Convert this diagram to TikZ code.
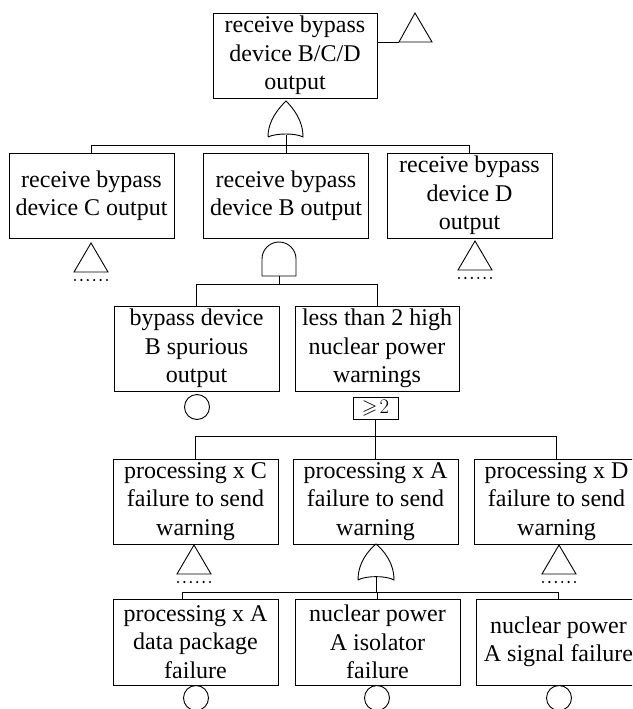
\documentclass[tikz,border=0pt]{standalone}
\usepackage{amssymb}
\usepackage{fontspec}
\setmainfont{Liberation Serif}

% transfer symbol: triangle hanging below an event, with a row of dots
\newcommand\transferdown[2]{%
  \draw[gateline] (#1,#2) -- ++(-17,-29) -- ++(34,0) -- cycle;
  \foreach \k in {0,...,5}
    \fill ({#1-16+\k*6.4},{#2-37}) circle (1.2pt);}

\begin{document}
\begin{tikzpicture}[x=1pt,y=1pt,
  evt/.style={draw, line width=0.9pt, minimum width=165pt, minimum height=85pt,
    inner sep=0pt, align=center, font=\fontsize{24}{28.5}\selectfont},
  wire/.style={line width=0.9pt},
  gateline/.style={line width=0.9pt},
  basic/.style={draw, circle, line width=0.9pt, minimum size=25pt, inner sep=0pt}]
\useasboundingbox (0,0) rectangle (632,-709);
\clip (0,0) rectangle (632,-709);

% events
\node[evt, minimum width=164pt] (top) at (295,-55.5) {receive bypass\\device B/C/D\\output};
\node[evt] (C2) at (91.5,-195.5) {receive bypass\\device C output};
\node[evt] (B2) at (286,-195.5) {receive bypass\\device B output};
\node[evt] (D2) at (469.5,-195.5) {receive bypass\\device D\\output};
\node[evt] (S3) at (196.5,-348.5) {bypass device\\B spurious\\output};
\node[evt, minimum width=164pt] (L3) at (377,-348.5) {less than 2 high\\nuclear power\\warnings};
\node[evt] (C4) at (195.5,-501.5) {processing x C\\failure to send\\warning};
\node[evt] (A4) at (375.5,-501.5) {processing x A\\failure to send\\warning};
\node[evt] (D4) at (556.5,-501.5) {processing x D\\failure to send\\warning};
\node[evt, minimum height=86pt] (P5) at (195.5,-642) {processing x A\\data package\\failure};
\node[evt, minimum height=86pt] (N5) at (377.5,-642) {nuclear power\\A isolator\\failure};
\node[evt, minimum height=86pt] (G5) at (558.5,-642) {nuclear power\\A signal failure};

% transfer-out triangle beside the top event
\coordinate (t0) at (399,-42);
\draw[gateline] (t0) -- (432,-42) -- (415,-13) -- cycle;
\draw[wire] (top.east |- t0) -- (t0);

% OR gate under the top event
\coordinate (g1out) at (286,-135);
\draw[gateline] (268,-137) .. controls (268,-120) and (279,-108) .. (286,-101)
  .. controls (293,-108) and (303,-120) .. (303,-137)
  .. controls (296,-133) and (276,-133) .. (268,-137);
\draw[wire] (g1out) -- ++(0,-10) -| (C2.north);
\draw[wire] (g1out) -- ++(0,-10) -| (D2.north);
\draw[wire] (g1out) -- (B2.north);

% transfers under C and D
\transferdown{91}{-243}
\transferdown{475}{-241}

% AND gate under device B output
\coordinate (a1out) at (279,-276);
\draw[gateline] (262,-276) -- (262,-259) arc[start angle=180, end angle=0, radius=17pt]
  -- (296,-276) -- cycle;
\draw[wire] (a1out) -- ++(0,-8) -| (S3.north);
\draw[wire] (a1out) -- ++(0,-8) -| (L3.north);

% basic event under spurious output
\node[basic] (e1) at (197,-407) {};

% voting gate 2-out-of-3
\node[draw, line width=0.9pt, minimum width=45pt, minimum height=22pt, inner sep=0pt,
  font=\fontsize{20}{22}\selectfont] (vote) at (375.5,-408) {$\geqslant\!2$};
\draw[wire] (vote.south) -- ++(0,-17) -| (C4.north);
\draw[wire] (vote.south) -- ++(0,-17) -| (D4.north);
\draw[wire] (vote.south) -- (A4.north);

% transfers under C and D processing
\transferdown{194}{-545}
\transferdown{559}{-545}

% OR gate under processing x A
\coordinate (g2out) at (376,-577);
\draw[gateline] (358,-580) .. controls (358,-562) and (369,-550) .. (376,-544)
  .. controls (383,-550) and (394,-562) .. (394,-580)
  .. controls (387,-575.5) and (365,-575.5) .. (358,-580);
\draw[wire] (g2out) -- ++(0,-15) -| ([xshift=-13.5pt]P5.north);
\draw[wire] (g2out) -- ++(0,-15) -| (G5.north);
\draw[wire] (g2out) -- ++(0,-15) -| (N5.north);

% basic events at the bottom
\node[basic] (e2) at (196,-698) {};
\node[basic] (e3) at (377,-698) {};
\node[basic] (e4) at (559,-698) {};
\end{tikzpicture}
\end{document}
